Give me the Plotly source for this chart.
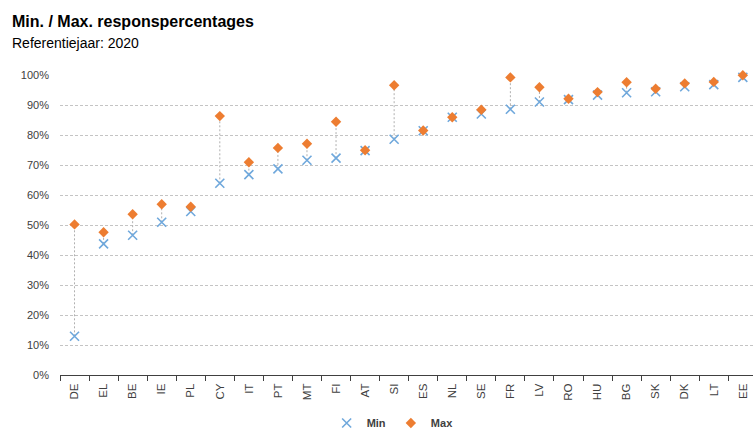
import plotly.graph_objects as go

countries = ["DE", "EL", "BE", "IE", "PL", "CY", "IT", "PT", "MT", "FI", "AT", "SI",
             "ES", "NL", "SE", "FR", "LV", "RO", "HU", "BG", "SK", "DK", "LT", "EE"]
min_vals = [12.9, 43.7, 46.6, 50.9, 54.5, 63.9, 66.8, 68.7, 71.6, 72.3, 74.8, 78.6,
            81.4, 85.9, 87.0, 88.6, 91.0, 91.8, 93.3, 94.1, 94.4, 96.1, 96.8, 99.2]
max_vals = [50.2, 47.6, 53.6, 56.9, 56.1, 86.3, 70.9, 75.7, 77.1, 84.4, 74.9, 96.6,
            81.5, 85.9, 88.4, 99.2, 95.9, 92.1, 94.3, 97.6, 95.4, 97.2, 97.7, 99.9]

# connector segments between min and max
cx, cy = [], []
for c, lo, hi in zip(countries, min_vals, max_vals):
    cx += [c, c, None]
    cy += [lo, hi, None]

fig = go.Figure()
fig.add_trace(go.Scatter(x=cx, y=cy, mode="lines",
                         line=dict(color="#b0b0b0", width=1, dash="2px,2px"),
                         showlegend=False, hoverinfo="skip"))
fig.add_trace(go.Scatter(x=countries, y=min_vals, mode="markers", name="<b>Min</b>",
                         cliponaxis=False,
                         marker=dict(symbol="x-thin", size=9,
                                     line=dict(color="#6FA8DC", width=1.6),
                                     color="#6FA8DC")))
fig.add_trace(go.Scatter(x=countries, y=max_vals, mode="markers", name="<b>Max</b>",
                         cliponaxis=False,
                         marker=dict(symbol="diamond", size=8, color="#ED7D31")))

fig.add_annotation(text="<b>Min. / Max. responspercentages</b>", xref="paper", yref="paper",
                   x=-50/693, y=1 + 54/300, xanchor="left", yanchor="middle", showarrow=False,
                   font=dict(family="Liberation Sans, Arial", size=16, color="#000000"))
fig.add_annotation(text="Referentiejaar: 2020", xref="paper", yref="paper",
                   x=-50/693, y=1 + 32/300, xanchor="left", yanchor="middle", showarrow=False,
                   font=dict(family="Liberation Sans, Arial", size=14, color="#000000"))

fig.update_layout(
    width=753, height=430,
    margin=dict(l=60, r=0, t=75, b=55, autoexpand=False),
    plot_bgcolor="white", paper_bgcolor="white",
    font=dict(family="Liberation Sans, Arial", size=11, color="#404040"),
    legend=dict(orientation="h", x=0.48, xanchor="center", y=-48/300, yanchor="middle",
                font=dict(size=11, color="#404040"), itemwidth=30, tracegroupgap=0),
    xaxis=dict(type="category", categoryorder="array", categoryarray=countries,
               range=[-0.5, 23.35], tickangle=-90, showgrid=False, automargin=False,
               showline=True, linecolor="#404040", linewidth=1,
               ticks="outside", tickson="boundaries", ticklen=5, tickcolor="#404040",
               ticklabelstandoff=3,
               tickfont=dict(size=11.5, color="#404040")),
    yaxis=dict(range=[0, 100], dtick=10, ticksuffix="%", showgrid=True, automargin=False,
               gridcolor="#c4c4c4", griddash="3px,2px", gridwidth=1,
               zeroline=False, showline=False, ticklabelstandoff=10,
               tickfont=dict(size=11, color="#404040")),
)

fig.write_html("out.html", config={"displayModeBar": False},
               post_script="document.body.style.margin='0px';")
